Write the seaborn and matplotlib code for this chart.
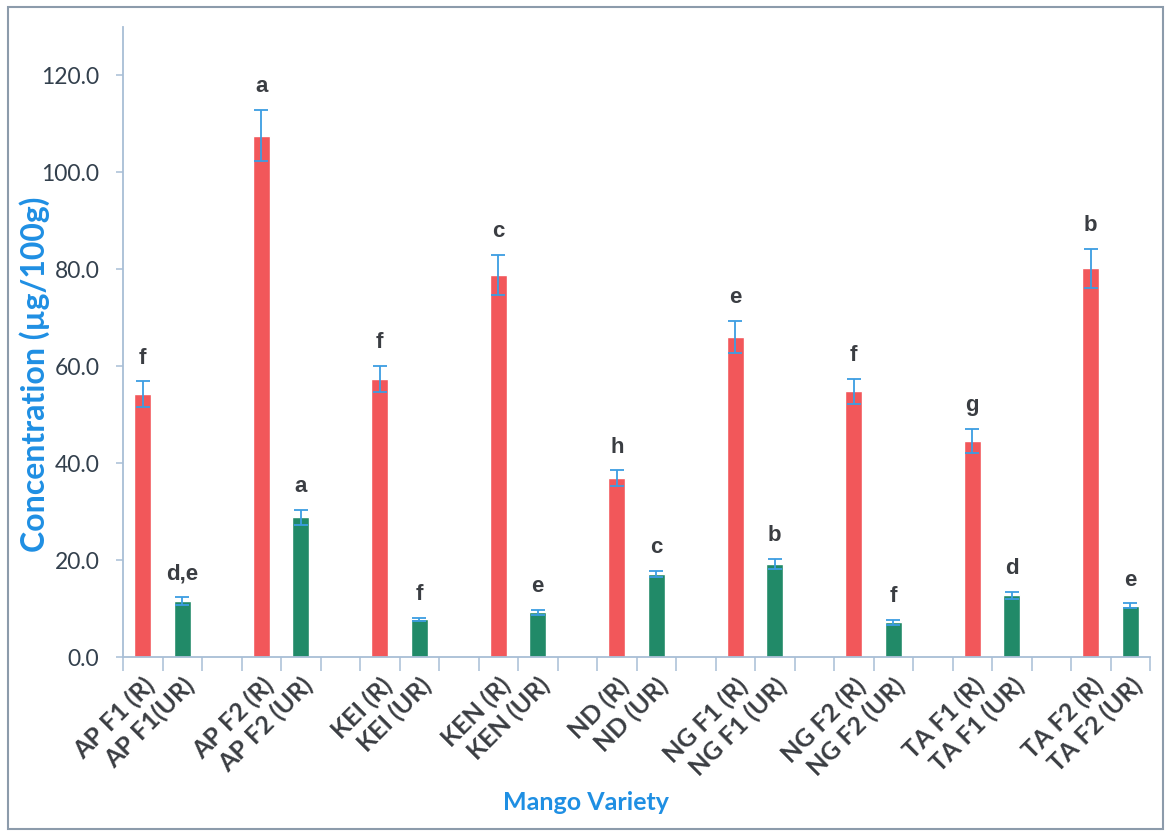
import matplotlib
matplotlib.use("Agg")
import matplotlib.pyplot as plt
import numpy as np
import pandas as pd
import seaborn as sns
from matplotlib.patches import Rectangle
from matplotlib.ticker import FormatStrFormatter, FixedLocator

# Carotenoid concentration (µg/100g) of ripe (R) and unripe (UR) mango varieties
varieties = ["AP F1", "AP F2", "KEI", "KEN", "ND", "NG F1", "NG F2", "TA F1", "TA F2"]
ripe_labels = ["AP F1 (R)", "AP F2 (R)", "KEI (R)", "KEN (R)", "ND (R)",
               "NG F1 (R)", "NG F2 (R)", "TA F1 (R)", "TA F2 (R)"]
unripe_labels = ["AP F1(UR)", "AP F2 (UR)", "KEI (UR)", "KEN (UR)", "ND (UR)",
                 "NG F1 (UR)", "NG F2 (UR)", "TA F1 (UR)", "TA F2 (UR)"]
ripe_mean = [54.2, 107.6, 57.4, 78.9, 36.9, 66.1, 54.8, 44.6, 80.2]
ripe_sd = [2.7, 5.3, 2.7, 4.1, 1.6, 3.3, 2.6, 2.5, 4.0]
unripe_mean = [11.5, 28.8, 7.8, 9.2, 17.2, 19.2, 7.2, 12.7, 10.6]
unripe_sd = [0.8, 1.6, 0.3, 0.5, 0.6, 1.1, 0.5, 0.8, 0.5]
ripe_groups = ["f", "a", "f", "c", "h", "e", "f", "g", "b"]
unripe_groups = ["d,e", "a", "f", "e", "c", "b", "f", "d", "e"]
y_ticks = [0, 20, 40, 60, 80, 100, 120]

RED = "#F2575A"
GREEN = "#218A68"
ERR = "#3C9DE2"
TEXT = "#3a3d42"
BLUE = "#1F8FE3"
AXIS = "#a8bed6"

sns.set_style("white")
plt.rcParams["font.family"] = ["Lato", "DejaVu Sans"]

# Category slots: R, UR, then an empty spacer between varieties
order, tick_text = [], []
for i, v in enumerate(varieties):
    order += [ripe_labels[i], unripe_labels[i]]
    tick_text += [ripe_labels[i], unripe_labels[i]]
    if i < len(varieties) - 1:
        order.append(f"gap{i}")
        tick_text.append("")

df = pd.DataFrame({
    "sample": ripe_labels + unripe_labels,
    "value": ripe_mean + unripe_mean,
    "sd": ripe_sd + unripe_sd,
    "group": ripe_groups + unripe_groups,
    "ripeness": ["Ripe"] * len(ripe_labels) + ["Unripe"] * len(unripe_labels),
})

fig = plt.figure(figsize=(11.67, 8.32), dpi=100)
W, H = 1167, 832
ax = fig.add_axes([123 / W, 1 - 657 / H, (1150 - 123) / W, (657 - 27) / H])

sns.barplot(data=df, x="sample", y="value", hue="ripeness", order=order,
            palette={"Ripe": RED, "Unripe": GREEN}, width=0.43, dodge=False,
            errorbar=None, legend=False, saturation=1, ax=ax)

xpos = np.array([order.index(s) for s in df["sample"]])
ax.errorbar(xpos, df["value"], yerr=df["sd"], fmt="none", ecolor=ERR,
            elinewidth=1.3, capsize=5, capthick=1.3, zorder=3)

for x, m, s, g in zip(xpos, df["value"], df["sd"], df["group"]):
    ax.annotate(g, (x, m + s), xytext=(0, 9), textcoords="offset points",
                ha="center", va="bottom", fontsize=16, fontweight="bold",
                color=TEXT, family=["Liberation Sans", "DejaVu Sans"])

ax.set_xlim(-0.5, len(order) - 0.5)
ax.set_ylim(0, 130)

ax.set_xticks(range(len(order)))
ax.set_xticklabels(tick_text, rotation=45, ha="right", va="top",
                   rotation_mode="anchor", fontsize=18, fontweight="bold",
                   color=TEXT)
ax.tick_params(axis="x", which="major", length=0, pad=12)
ax.xaxis.set_minor_locator(FixedLocator(np.arange(-0.5, len(order), 1.0)))
ax.tick_params(axis="x", which="minor", length=10, width=1.1, color=AXIS,
               direction="out", bottom=True)

ax.set_yticks(y_ticks)
ax.yaxis.set_major_formatter(FormatStrFormatter("%.1f"))
ax.tick_params(axis="y", length=5, width=1.1, color=AXIS, direction="out",
               labelsize=16.5, labelcolor="#33404d", pad=12, left=True)

for side in ("top", "right"):
    ax.spines[side].set_visible(False)
for side in ("left", "bottom"):
    ax.spines[side].set_color(AXIS)
    ax.spines[side].set_linewidth(1.3)

ax.set_xlabel("")
ax.set_ylabel("")
fig.text(35 / W, 1 - 374 / H, "Concentration (µg/100g)", rotation=90,
         ha="center", va="center", fontsize=23, fontweight="bold", color=BLUE)
fig.text(586 / W, 1 - 802 / H, "Mango Variety", ha="center", va="center",
         fontsize=18, fontweight="bold", color=BLUE)

fig.patches.append(Rectangle((8 / W, 3 / H), (1163 - 8) / W, (829 - 7) / H,
                             transform=fig.transFigure, fill=False,
                             edgecolor="#8c9bab", linewidth=1.5))

fig.savefig("out.png", dpi=100)
